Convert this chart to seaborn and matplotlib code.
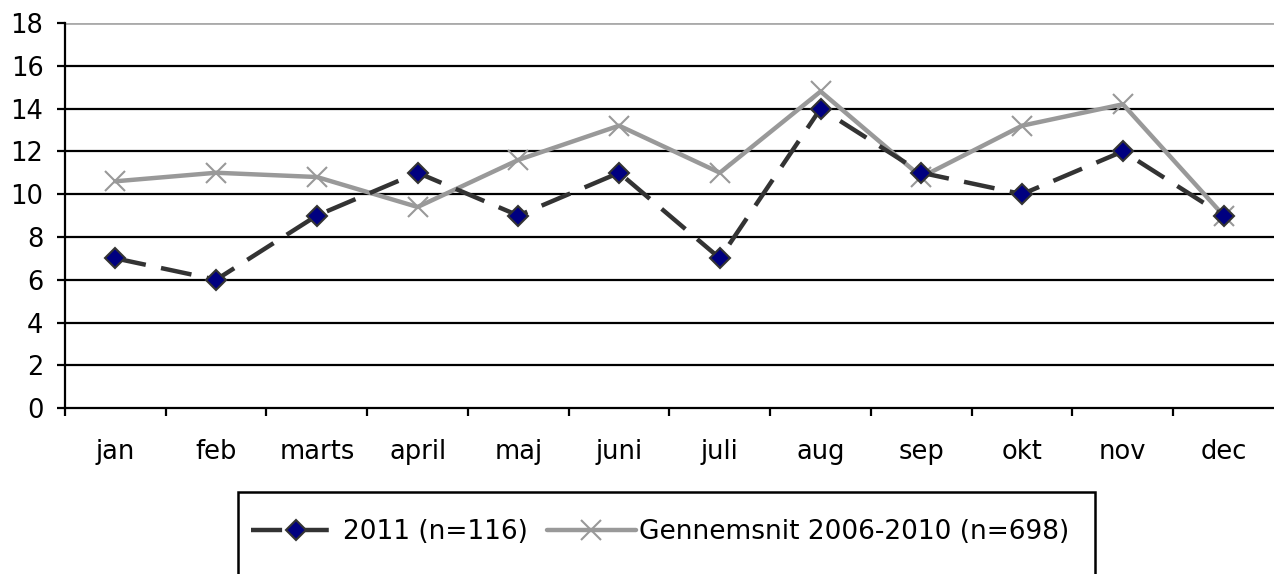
import matplotlib
matplotlib.use("Agg")
import matplotlib.pyplot as plt
import seaborn as sns
import pandas as pd
from matplotlib.patches import Rectangle

# data
maaneder = ['jan', 'feb', 'marts', 'april', 'maj', 'juni', 'juli', 'aug', 'sep', 'okt', 'nov', 'dec']
aar_2011 = [7, 6, 9, 11, 9, 11, 7, 14, 11, 10, 12, 9]
gennemsnit = [10.6, 11.0, 10.8, 9.4, 11.6, 13.2, 11.0, 14.8, 10.8, 13.2, 14.2, 9.0]
navn_2011 = '2011 (n=116)'
navn_snit = 'Gennemsnit 2006-2010 (n=698)'

df = pd.DataFrame({'pos': range(len(maaneder)), 'maaned': maaneder,
                   'v2011': aar_2011, 'snit': gennemsnit})

sns.set_style("ticks")
plt.rcParams['font.family'] = ['DejaVu Sans']
plt.rcParams['text.color'] = 'black'
plt.rcParams['xtick.color'] = 'black'
plt.rcParams['ytick.color'] = 'black'

fig = plt.figure(figsize=(12.74, 5.74), dpi=100)
ax = fig.add_axes([0.051, 0.289, 0.949, 0.671])

# gitterlinjer
for y in range(2, 17, 2):
    ax.axhline(y, color='black', lw=1.6, zorder=0)
ax.axhline(18, color='#aaaaaa', lw=2, zorder=0)

sns.lineplot(data=df, x='pos', y='v2011', ax=ax, color='#333333', lw=3.2,
             marker='D', markersize=10, markerfacecolor='#000080',
             markeredgecolor='#333333', markeredgewidth=1.5,
             legend=False, zorder=3)
linje_2011 = ax.lines[-1]
linje_2011.set_dashes([7, 3.5])
sns.lineplot(data=df, x='pos', y='snit', ax=ax, color='#999999', lw=3.2,
             marker='x', markersize=14, markeredgewidth=1.5,
             markeredgecolor='#999999', legend=False, zorder=2)
linje_snit = ax.lines[-1]

ax.set_xlim(-0.5, 11.5)
ax.set_ylim(0, 18)
ax.set_yticks(range(0, 19, 2))
ax.set_xticks(range(len(maaneder)))
ax.set_xticklabels(maaneder)
ax.set_xticks([i - 0.5 for i in range(len(maaneder))], minor=True)
ax.tick_params(axis='x', which='major', length=0, pad=22, labelsize=18.5, colors='black')
ax.tick_params(axis='x', which='minor', length=5.5, width=1.6, color='black', direction='out', bottom=True)
ax.tick_params(axis='y', length=6, width=1.6, color='black', direction='out', labelsize=18.5,
               pad=9.5, left=True, colors='black')
ax.set_xlabel('')
ax.set_ylabel('')

for s in ['top', 'right']:
    ax.spines[s].set_visible(False)
ax.spines['left'].set_color('black')
ax.spines['left'].set_linewidth(1.6)
ax.spines['bottom'].set_color('black')
ax.spines['bottom'].set_linewidth(1.6)

# legendeboks
fig.patches.append(Rectangle((238 / 1274, -0.05), (1095 - 238) / 1274, 1 - 492 / 574 + 0.05,
                             transform=fig.transFigure, fill=False, edgecolor='black', lw=1.8))
ax.legend([linje_2011, linje_snit], [navn_2011, navn_snit], loc='center',
          bbox_to_anchor=(660 / 1274, 1 - 532 / 574),
          bbox_transform=fig.transFigure, ncol=2, frameon=False, fontsize=19,
          handlelength=3.4, handletextpad=0.1, columnspacing=0.7)

fig.savefig('out.png', dpi=100)
